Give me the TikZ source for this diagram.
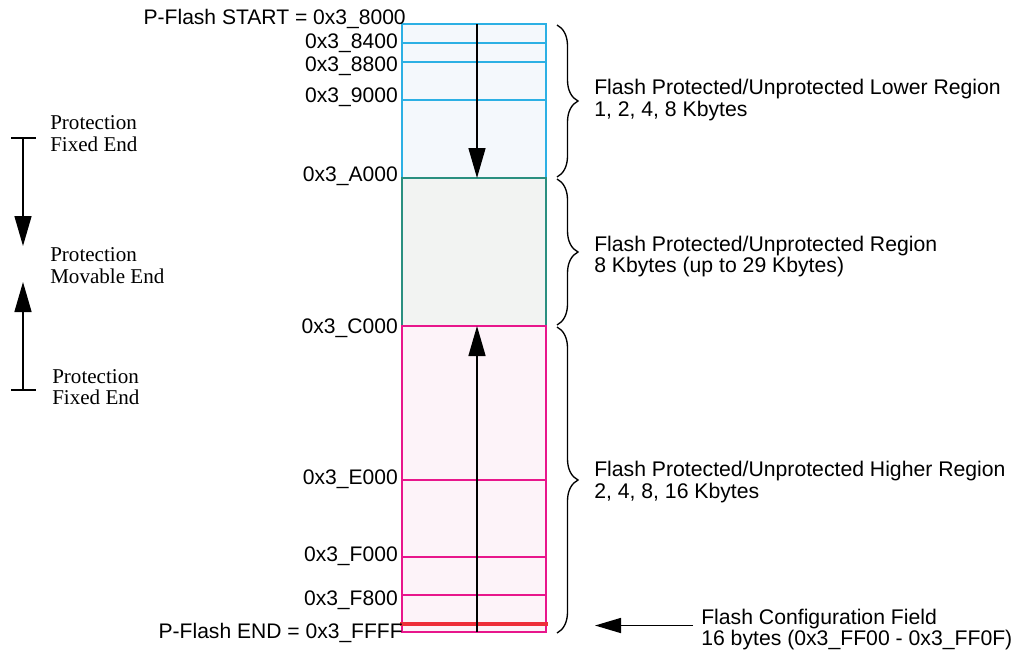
\documentclass[tikz,border=0pt]{standalone}
\usepackage{fontspec}
\setmainfont{Liberation Serif}
\newfontfamily\hv{Liberation Sans}
\usetikzlibrary{arrows.meta,decorations.pathreplacing}
\definecolor{lblue}{HTML}{2CB0E4}
\definecolor{lbluefill}{HTML}{F4F8FC}
\definecolor{lteal}{HTML}{2A8F80}
\definecolor{ltealfill}{HTML}{F2F3F2}
\definecolor{lpink}{HTML}{E8168C}
\definecolor{lpinkfill}{HTML}{FDF3F9}
\definecolor{lred}{HTML}{EE2E3A}
\tikzset{
  addr/.style={anchor=base east, inner sep=0pt, font=\hv\fontsize{15.8}{16.5}\selectfont},
  desc/.style={anchor=base west, inner sep=0pt, font=\hv\fontsize{15.9}{16.5}\selectfont},
  legend/.style={anchor=base west, inner sep=0pt, font=\fontsize{15.8}{16.5}\selectfont},
  bigarrow/.style={line width=1.1pt, -{Triangle[length=22.5pt,width=12.75pt]}},
  cfgarrow/.style={line width=1.2pt, -{Triangle[length=19.5pt,width=11.25pt]}},
  bracestyle/.style={line width=1pt, decorate, decoration={brace, amplitude=15.75pt}},
  regline/.style={line width=1pt},
}
\begin{document}
\begin{tikzpicture}[x=0.75pt,y=-0.75pt]
\useasboundingbox (0,0) rectangle (1016,654);
% regions
\filldraw[regline, draw=lblue, fill=lbluefill] (402,24) rectangle (546,178);
\draw[regline, lblue] (402,43) -- (546,43);
\draw[regline, lblue] (402,62) -- (546,62);
\draw[regline, lblue] (402,100) -- (546,100);
\filldraw[regline, draw=lteal, fill=ltealfill] (402,178) rectangle (546,326);
\filldraw[regline, draw=lpink, fill=lpinkfill] (402,326) rectangle (546,632);
\draw[regline, lpink] (402,480) -- (546,480);
\draw[regline, lpink] (402,557) -- (546,557);
\draw[regline, lpink] (402,595) -- (546,595);
\draw[line width=2.3pt, lred] (400,624) -- (548,624);
% central arrows
\coordinate (top) at (477,24);
\coordinate (a000) at (477,178);
\coordinate (c000) at (477,326);
\coordinate (bot) at (477,632);
\draw[bigarrow] (top) -- (a000);
\draw[bigarrow] (bot) -- (c000);
% address labels
\node[addr] (pstart) at (406,24) {P-Flash START = 0x3\_8000};
\node[addr] (a8400) at (398,48) {0x3\_8400};
\node[addr] (a8800) at (398,71) {0x3\_8800};
\node[addr] (a9000) at (398,102) {0x3\_9000};
\node[addr] (aA000) at (398,181) {0x3\_A000};
\node[addr] (aC000) at (398,333) {0x3\_C000};
\node[addr] (aE000) at (398,484) {0x3\_E000};
\node[addr] (aF000) at (398,561) {0x3\_F000};
\node[addr] (aF800) at (398,605) {0x3\_F800};
\node[addr] (pend) at (403,638) {P-Flash END = 0x3\_FFFF};
% braces
\draw[bracestyle] (557,25) -- (557,177);
\draw[bracestyle] (557,179) -- (557,325);
\draw[bracestyle] (557,327) -- (557,633);
% descriptions
\node[desc] (d1a) at (594,94) {Flash Protected/Unprotected Lower Region};
\node[desc] (d1b) at (594,116) {1, 2, 4, 8 Kbytes};
\node[desc] (d2a) at (594,251) {Flash Protected/Unprotected Region};
\node[desc] (d2b) at (594,272) {8 Kbytes (up to 29 Kbytes)};
\node[desc] (d3a) at (594,476) {Flash Protected/Unprotected Higher Region};
\node[desc] (d3b) at (594,498) {2, 4, 8, 16 Kbytes};
\node[desc] (d4a) at (701,624) {Flash Configuration Field};
\node[desc] (d4b) at (701,645) {16 bytes (0x3\_FF00 - 0x3\_FF0F)};
\coordinate (cfgA) at (693,625.5);
\coordinate (cfgB) at (595,625.5);
\draw[cfgarrow] (cfgA) -- (cfgB);
% left legend
\coordinate (ltop) at (23,138);
\coordinate (lmid1) at (23,246);
\coordinate (lmid2) at (23,282);
\coordinate (lbot) at (23,390);
\draw[line width=1.1pt] (11,138) -- (36,138);
\draw[line width=1.1pt] (11,390) -- (36,390);
\draw[bigarrow] (ltop) -- (lmid1);
\draw[bigarrow] (lbot) -- (lmid2);
\node[legend] (l1a) at (50,129) {Protection};
\node[legend] (l1b) at (50,151) {Fixed End};
\node[legend] (l2a) at (50,261) {Protection};
\node[legend] (l2b) at (50,283) {Movable End};
\node[legend] (l3a) at (52,383) {Protection};
\node[legend] (l3b) at (52,404) {Fixed End};
\end{tikzpicture}
\end{document}
